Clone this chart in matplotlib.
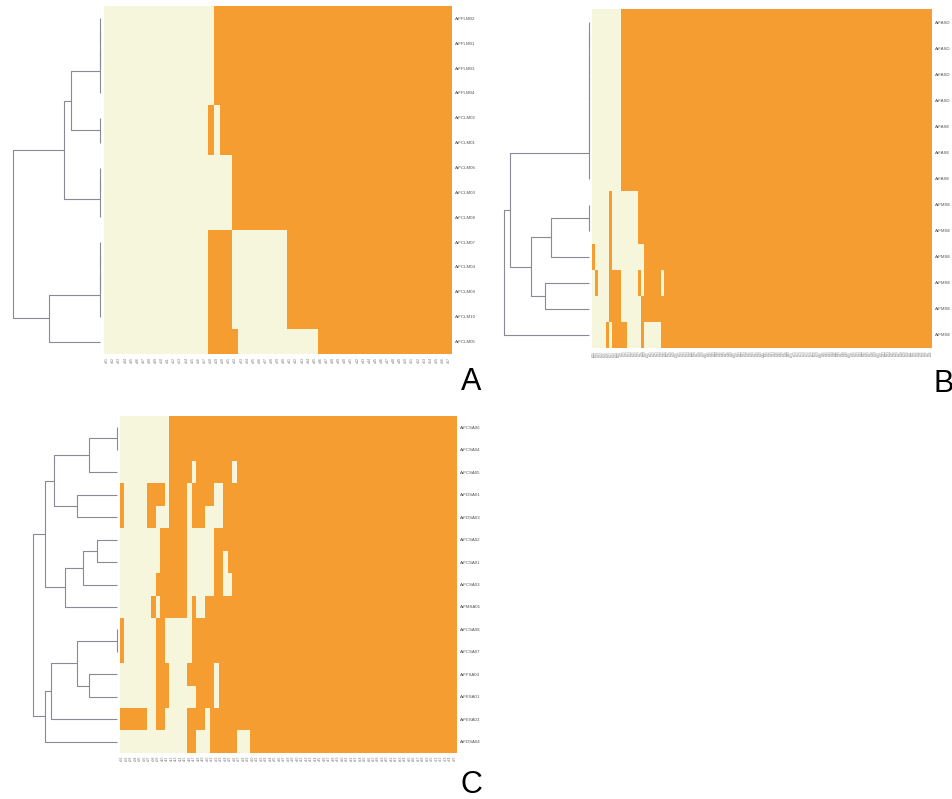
import numpy as np
import matplotlib.pyplot as plt
from matplotlib.colors import ListedColormap

W, H = 953, 799

light = '#f6f6dc'
orange = '#f59d30'
line_col = '#8a8a94'

plt.rcParams['font.family'] = ['Liberation Sans', 'DejaVu Sans']

# ---- panel A ----
a_rows = ['ArFFLM02', 'ArFFLM01', 'ArFFLM03', 'ArFFLM04', 'ArFCLM02', 'ArFCLM01',
          'ArFCLM06', 'ArFCLM03', 'ArFCLM08', 'ArFCLM07', 'ArFCLM04', 'ArFCLM09',
          'ArFCLM10', 'ArFCLM05']
a_ncol = 57
# 0 = absent (cream), 1 = present (orange); columns past the string are all 1
a_cells = ["0" * 18, "0" * 18, "0" * 18, "0" * 18,
           "0" * 17 + "10", "0" * 17 + "10",
           "0" * 21, "0" * 21, "0" * 21,
           "0" * 17 + "1" * 4 + "0" * 9, "0" * 17 + "1" * 4 + "0" * 9,
           "0" * 17 + "1" * 4 + "0" * 9, "0" * 17 + "1" * 4 + "0" * 9,
           "0" * 17 + "1" * 5 + "0" * 13]
# (left, right, height) merges, scipy style ids
a_link = [(0, 1, 0), (14, 2, 0), (15, 3, 0), (4, 5, 0), (16, 17, 87),
          (6, 7, 0), (19, 8, 0), (18, 20, 109), (9, 10, 0), (22, 11, 0),
          (23, 12, 0), (24, 13, 153), (21, 25, 260)]

# ---- panel B ----
# row names are cut by the page edge in the source
b_rows = ['ArFASD', 'ArFASD', 'ArFASD', 'ArFASD', 'ArFASE', 'ArFASE',
          'ArFASE', 'ArFMSE', 'ArFMSE', 'ArFMSE', 'ArFMSE', 'ArFMSE',
          'ArFMSE']
b_ncol = 118
b_cells = ["0" * 10] * 7 + [
    "0" * 6 + "1" + "0" * 9,
    "0" * 6 + "1" + "0" * 9,
    "1" + "0" * 5 + "1" + "0" * 11,
    "01" + "0" * 4 + "1" * 4 + "0" * 6 + "10" + "1" * 6 + "0",
    "0" * 6 + "1" * 4 + "0" * 7,
    "0" * 5 + "10" + "1" * 5 + "0" * 5 + "1" + "0" * 6]
b_link = [(0, 1, 0), (13, 2, 0), (14, 3, 0), (15, 4, 0), (16, 5, 0), (17, 6, 0),
          (7, 8, 0), (19, 9, 115), (10, 11, 133), (20, 21, 175), (18, 22, 237),
          (23, 12, 256)]

# ---- panel C ----
c_rows = ['ArFCSA06', 'ArFCSA04', 'ArFCSA05', 'ArFDSA01', 'ArFDSA03', 'ArFCSA02',
          'ArFCSA01', 'ArFCSA03', 'ArFMSA01', 'ArFCSA08', 'ArFCSA07', 'ArFFSA03',
          'ArFESA01', 'ArFESA03', 'ArFDSA04']
c_ncol = 75
c_cells = ["0" * 11, "0" * 11,
           "0" * 11 + "1" * 5 + "0" + "1" * 8 + "0",
           "1" + "0" * 5 + "1" * 4 + "0" + "1" * 4 + "0" + "1" * 5 + "00",
           "1" + "0" * 5 + "11" + "000" + "1" * 4 + "0" + "111" + "0" * 4,
           "0" * 9 + "1" * 6 + "0" * 6,
           "0" * 9 + "1" * 6 + "0" * 6 + "110",
           "0" * 8 + "1" * 7 + "0" * 6 + "1100",
           "0" * 7 + "10" + "1" * 6 + "0100",
           "1" + "0" * 7 + "11" + "0" * 6,
           "1" + "0" * 7 + "11" + "0" * 6,
           "0" * 8 + "111" + "0" * 4 + "1" * 6 + "0",
           "0" * 8 + "111" + "0" * 6 + "1" * 4 + "0",
           "1" * 6 + "00" + "11" + "0" * 5 + "1" * 4 + "0",
           "0" * 15 + "11" + "000" + "1" * 6 + "000"]
c_link = [(0, 1, 0), (15, 2, 84), (3, 4, 120), (16, 17, 190), (5, 6, 60),
          (19, 7, 103), (20, 8, 157), (18, 21, 216), (9, 10, 0), (11, 12, 84),
          (23, 24, 120), (25, 13, 198), (26, 14, 216), (22, 27, 252)]

# column labels are too small to read in the source; short placeholders
a_cols = ['a%02d' % (i + 1) for i in range(a_ncol)]
b_cols = ['b%03d' % (i + 1) for i in range(b_ncol)]
c_cols = ['c%02d' % (i + 1) for i in range(c_ncol)]


def to_matrix(cells, ncol):
    return np.array([[int(c) for c in s.ljust(ncol, '1')] for s in cells])


def box(x0, y0, x1, y1):
    return [x0 / W, 1 - y1 / H, (x1 - x0) / W, (y1 - y0) / H]


def draw_tree(ax, link, n):
    pos = {i: i + 0.5 for i in range(n)}
    hgt = {i: 0.0 for i in range(n)}
    for k, (a, b, h) in enumerate(link):
        ax.plot([hgt[a], h, h, hgt[b]], [pos[a], pos[a], pos[b], pos[b]],
                color=line_col, lw=0.8, clip_on=False, solid_capstyle='butt')
        pos[n + k] = (pos[a] + pos[b]) / 2
        hgt[n + k] = h
    ax.set_xlim(link[-1][2], 0)
    ax.set_ylim(n, 0)
    ax.axis('off')


def draw_heat(ax, mat, rows, cols, colfs):
    nr, nc = mat.shape
    ax.imshow(mat, cmap=ListedColormap([light, orange]), vmin=0, vmax=1,
              aspect='auto', interpolation='nearest', extent=(0, nc, nr, 0))
    ax.set_yticks(np.arange(nr) + 0.5)
    ax.set_yticklabels(rows, fontsize=3.2, color='#555555')
    ax.yaxis.tick_right()
    ax.set_xticks(np.arange(nc) + 0.5)
    ax.set_xticklabels(cols, rotation=90, fontsize=colfs, color='#777777')
    ax.tick_params(length=0, pad=2)
    for s in ax.spines.values():
        s.set_visible(False)


fig = plt.figure(figsize=(W / 100, H / 100), dpi=100)

panels = [
    (a_cells, a_ncol, a_rows, a_cols, a_link, (13, 6, 100, 354), (104, 6, 452, 354), 2.6, 'A', (471, 390)),
    (b_cells, b_ncol, b_rows, b_cols, b_link, (504, 9, 589, 348), (592, 9, 932, 348), 1.8, 'B', (944, 392)),
    (c_cells, c_ncol, c_rows, c_cols, c_link, (33, 416, 117, 753), (120, 416, 457, 753), 2.4, 'C', (471, 793)),
]

for cells, ncol, rows, cols, link, dbox, hbox, colfs, letter, lpos in panels:
    mat = to_matrix(cells, ncol)
    axd = fig.add_axes(box(*dbox))
    draw_tree(axd, link, len(rows))
    axh = fig.add_axes(box(*hbox))
    draw_heat(axh, mat, rows, cols, colfs)
    fig.text(lpos[0] / W, 1 - lpos[1] / H, letter, fontsize=22,
             ha='center', va='baseline', color='black')

fig.savefig('out.png', dpi=100, facecolor='white')
